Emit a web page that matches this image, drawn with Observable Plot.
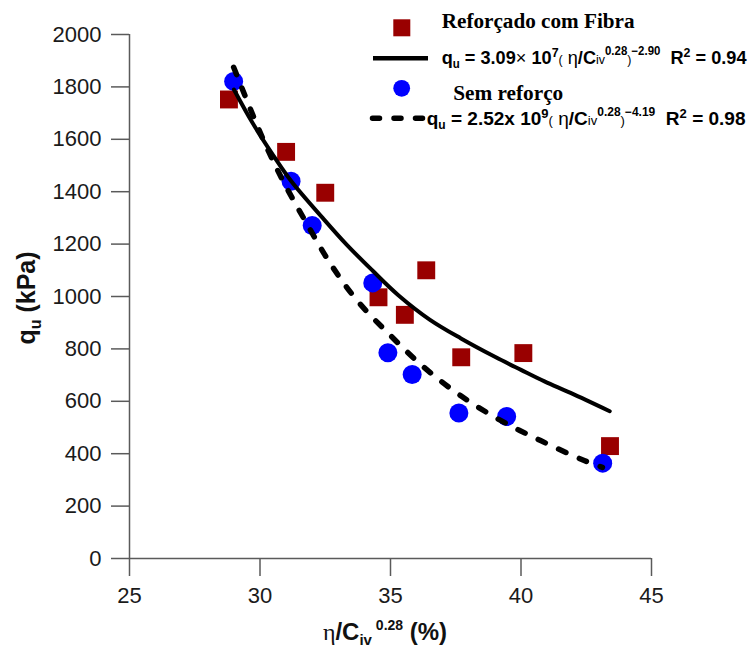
<!DOCTYPE html>
<html><head><meta charset="utf-8">
<script src="https://cdn.jsdelivr.net/npm/d3@7"></script>
<script src="https://cdn.jsdelivr.net/npm/@observablehq/plot@0.6"></script>
<style>
html,body{margin:0;padding:0;background:#fff;}
svg text{white-space:pre;}
</style>
</head><body>
<script>
// ---- data ----
const fibraX = [28.81, 31.0, 32.5, 34.54, 35.55, 36.37, 37.71, 40.09, 43.41];
const fibraY = [1752, 1552, 1396, 997, 930, 1100, 768, 784, 429];
const semX = [28.99, 31.19, 32.0, 34.32, 34.9, 35.83, 37.62, 39.45, 43.13];
const semY = [1821, 1440, 1271, 1052, 785, 702, 555, 542, 364];
const fitFibraX = [29.0, 29.7, 30.5, 31.2, 32.4, 33.3, 34.3, 35.3, 36.5, 37.7, 39.0, 40.0, 40.9, 41.9, 43.4];
const fitFibraY = [1790, 1665, 1540, 1440, 1300, 1200, 1100, 1005, 912, 840, 770, 720, 676, 632, 562];
const fitSemX = [28.99, 30.14, 30.91, 31.80, 32.70, 33.72, 35.0, 36.28, 37.68, 39.22, 40.75, 42.42, 43.12];
const fitSemY = [1875, 1595, 1436, 1277, 1125, 985, 851, 730, 622, 527, 450, 374, 348];
const xTicks = [25, 30, 35, 40, 45];
const yTicks = [0, 200, 400, 600, 800, 1000, 1200, 1400, 1600, 1800, 2000];
const seriesNames = ["Reforçado com Fibra", "Sem reforço"];

const fibra = fibraX.map((x, i) => ({x, y: fibraY[i]}));
const sem = semX.map((x, i) => ({x, y: semY[i]}));
const fitFibra = fitFibraX.map((x, i) => ({x, y: fitFibraY[i]}));
const fitSem = fitSemX.map((x, i) => ({x, y: fitSemY[i]}));

const axisGray = "#5a5a5a";
const textCol = "#1a1a1a";
const red = "#990000";
const blue = "#0000ff";

const chart = Plot.plot({
  width: 756, height: 652,
  marginLeft: 129, marginRight: 105, marginTop: 34, marginBottom: 94,
  x: {domain: [25, 45]},
  y: {domain: [0, 2000]},
  style: {fontFamily: "'Liberation Sans', Arial, sans-serif", background: "#fff", color: textCol},
  marks: [
    Plot.axisX({ticks: xTicks, tickFormat: d => String(d), tickSize: 18, tickPadding: 11, fontSize: 22, label: null, stroke: axisGray, strokeWidth: 1.5, fill: textCol}),
    Plot.axisY({ticks: yTicks, tickFormat: d => String(d), tickSize: 18, tickPadding: 10, fontSize: 22, label: null, stroke: axisGray, strokeWidth: 1.5, fill: textCol}),
    Plot.ruleX([25], {y1: 0, y2: 2000, stroke: axisGray, strokeWidth: 1.5}),
    Plot.ruleY([0], {x1: 25, x2: 45, stroke: axisGray, strokeWidth: 1.5}),
    Plot.dot(fibra, {x: "x", y: "y", symbol: "square", r: 10.1, fill: red}),
    Plot.dot(sem, {x: "x", y: "y", symbol: "circle", r: 9.5, fill: blue}),
    Plot.line(fitFibra, {x: "x", y: "y", stroke: "#000", strokeWidth: 4, curve: "catmull-rom"}),
    Plot.line(fitSem, {x: "x", y: "y", stroke: "#000", strokeWidth: 5.5, strokeDasharray: "8,14.5", strokeLinecap: "round", curve: "catmull-rom"})
  ]
});
document.body.appendChild(chart);

const svg = d3.select(chart);
const g = svg.append("g");

function rich(x, y, segs, opts) {
  const t = g.append("text").attr("x", x).attr("y", y)
    .attr("font-family", opts.family).attr("font-size", opts.size)
    .attr("font-weight", opts.weight || "bold").attr("fill", opts.fill || "#000")
    .attr("text-anchor", opts.anchor || "start");
  if (opts.transform) t.attr("transform", opts.transform);
  let cur = 0;
  for (const s of segs) {
    const off = s.off || 0;
    const ts = t.append("tspan").attr("dy", off - cur).text(s.t);
    if (s.size) ts.attr("font-size", s.size);
    if (s.weight) ts.attr("font-weight", s.weight);
    if (s.family) ts.attr("font-family", s.family);
    cur = off;
  }
  if (opts.width) {
    const w = t.node().getComputedTextLength();
    const sx = opts.width / w;
    t.attr("transform", `translate(${x},0) scale(${sx},1) translate(${-x},0)`);
  }
  return t;
}

const sans = "'Liberation Sans', Arial, sans-serif";
const serif = "'Liberation Serif', 'Times New Roman', serif";

// axis titles
rich(35, 298, [{t: "q"}, {t: "u", size: 16, off: 6}, {t: " (kPa)", off: 0}],
  {family: sans, size: 25, anchor: "middle", fill: "#111", transform: "rotate(-90,35,298)"});
rich(385, 640, [{t: "η", weight: "normal", family: serif}, {t: "/C"}, {t: "iv", size: 15, off: 5}, {t: " 0.28", size: 14, off: -10}, {t: " (%)", off: 0}],
  {family: sans, size: 24, anchor: "middle", fill: "#111"});

// legend symbols
g.append("rect").attr("x", 393.3).attr("y", 19.3).attr("width", 17).attr("height", 17).attr("fill", red);
g.append("line").attr("x1", 373).attr("x2", 428).attr("y1", 58.3).attr("y2", 58.3).attr("stroke", "#000").attr("stroke-width", 4.5);
g.append("circle").attr("cx", 401.7).attr("cy", 88.3).attr("r", 8.4).attr("fill", blue);
g.append("line").attr("x1", 372.5).attr("x2", 422.5).attr("y1", 118.3).attr("y2", 118.3).attr("stroke", "#000").attr("stroke-width", 5.5)
  .attr("stroke-dasharray", "7,14.5").attr("stroke-linecap", "round");

// legend texts
rich(441.7, 28, [{t: seriesNames[0]}], {family: serif, size: 20, width: 193});
rich(453.3, 100, [{t: seriesNames[1]}], {family: serif, size: 20, width: 110});

const eq1 = [
  {t: "q"}, {t: "u", size: 12, off: 4}, {t: " = 3.09", off: 0}, {t: "×", weight: "normal"}, {t: " 10"},
  {t: "7", size: 13, off: -7}, {t: "(", size: 13, off: 0, weight: "normal"}, {t: " η", weight: "normal"},
  {t: "/C"}, {t: "iv", size: 13, weight: "normal"}, {t: "0.28", size: 12, off: -9},
  {t: ")", size: 13, off: 0, weight: "normal"}, {t: "−2.90", size: 12, off: -9}, {t: "  R", off: 0},
  {t: "2", size: 13, off: -7}, {t: " = 0.94", off: 0}
];
const eq2 = [
  {t: "q"}, {t: "u", size: 12, off: 4}, {t: " = 2.52x 10", off: 0},
  {t: "9", size: 13, off: -7}, {t: "(", size: 13, off: 0, weight: "normal"}, {t: " η", weight: "normal"},
  {t: "/C"}, {t: "iv", size: 13, weight: "normal"}, {t: "0.28", size: 12, off: -9},
  {t: ")", size: 13, off: 0, weight: "normal"}, {t: "−4.19", size: 12, off: -9}, {t: "  R", off: 0},
  {t: "2", size: 13, off: -7}, {t: " = 0.98", off: 0}
];
rich(441.7, 64, eq1, {family: sans, size: 19, width: 305});
rich(426.7, 125, eq2, {family: sans, size: 19, width: 319});
</script>
</body></html>
